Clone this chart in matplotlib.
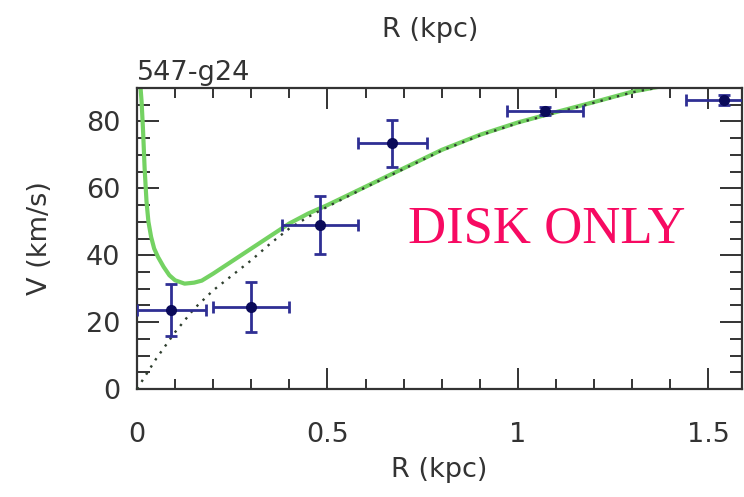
"""Rotation curve panel for 547-g24: observed velocities with the disk-only fit."""

import matplotlib.pyplot as plt
from matplotlib.ticker import MultipleLocator

# Observed rotation velocities
radius = [0.09, 0.30, 0.48, 0.67, 1.07, 1.54]
velocity = [23.5, 24.5, 49.0, 73.5, 83.0, 86.5]
radius_err = [0.09, 0.10, 0.10, 0.09, 0.10, 0.10]
velocity_err = [7.8, 7.5, 8.7, 7.0, 1.2, 1.5]

# Total model curve (disk plus central term)
model_r = [0.008, 0.012, 0.016, 0.020, 0.025, 0.030, 0.037, 0.045, 0.055,
           0.070, 0.085, 0.100, 0.125, 0.150, 0.170, 0.200, 0.240, 0.280,
           0.320, 0.360, 0.400, 0.450, 0.500, 0.600, 0.700, 0.800, 0.900,
           1.000, 1.100, 1.200, 1.300, 1.400, 1.500, 1.600]
model_v = [92.0, 86.0, 77.0, 66.0, 56.0, 50.0, 45.5, 42.0, 39.5,
           36.5, 34.0, 32.5, 31.5, 31.8, 32.4, 34.5, 37.5, 40.5,
           43.5, 46.5, 49.5, 52.5, 55.0, 60.5, 66.0, 71.5, 76.0,
           79.7, 82.8, 85.8, 88.9, 91.0, 92.5, 93.5]

# Disk-only contribution
disk_r = [0.0, 0.05, 0.10, 0.15, 0.20, 0.25, 0.30, 0.35, 0.40, 0.45, 0.50,
          0.60, 0.70, 0.80, 0.90, 1.00, 1.10, 1.20, 1.30, 1.40, 1.50, 1.60]
disk_v = [0.0, 9.0, 17.0, 24.0, 29.5, 34.0, 38.5, 43.5, 48.0, 51.5, 54.5,
          60.3, 65.8, 71.3, 75.8, 79.5, 82.6, 85.6, 88.7, 90.8, 92.3, 93.3]

x_ticks = [0, 0.5, 1, 1.5]
x_tick_labels = ["0", "0.5", "1", "1.5"]
y_ticks = [0, 20, 40, 60, 80]

INK = "#333333"
FONT_SIZE = 19.5

fig = plt.figure(figsize=(7.44, 4.97), dpi=100)
ax = fig.add_axes([137 / 744, 1 - 389 / 497, 605 / 744, 301 / 497])

ax.plot(model_r, model_v, color="#74d262", lw=3.0, zorder=2)
ax.plot(disk_r, disk_v, color="#2f3f2f", lw=1.7, ls=(0, (1, 2.6)), zorder=3)
ax.errorbar(radius, velocity, xerr=radius_err, yerr=velocity_err,
            fmt="o", ms=7, color="#0a0a5a", ecolor="#2f2f94",
            elinewidth=2, capsize=4, capthick=2, zorder=4)

ax.set_xlim(0, 1.588)
ax.set_ylim(0, 90)
ax.set_xticks(x_ticks, x_tick_labels)
ax.set_yticks(y_ticks)
ax.xaxis.set_minor_locator(MultipleLocator(0.1))
ax.yaxis.set_minor_locator(MultipleLocator(5))

ax.tick_params(axis="both", which="both", direction="in", top=True, right=True,
               width=1.4, color=INK, labelcolor=INK, labelsize=FONT_SIZE)
ax.tick_params(axis="x", which="major", length=15, pad=24)
ax.tick_params(axis="x", which="minor", length=7)
ax.tick_params(axis="y", which="major", length=16, pad=12)
ax.tick_params(axis="y", which="minor", length=9)
for spine in ax.spines.values():
    spine.set_color(INK)
    spine.set_linewidth(1.6)

ax.set_xlabel("R (kpc)", fontsize=FONT_SIZE, color=INK, labelpad=6)
ax.set_ylabel("V (km/s)", fontsize=FONT_SIZE, color=INK, labelpad=24)
ax.set_title("547-g24", loc="left", fontsize=FONT_SIZE, color=INK, pad=6)

# axis label of the panel above, cut by the frame
fig.text(430 / 744, 1 - 30 / 497, "R (kpc)", fontsize=FONT_SIZE, color=INK,
         ha="center", va="center")

fig.text(408 / 744, 1 - 242 / 497, "DISK ONLY", fontsize=38,
         family="Liberation Serif", color="#f70a62", ha="left", va="baseline")

fig.savefig("out.png", dpi=100)
